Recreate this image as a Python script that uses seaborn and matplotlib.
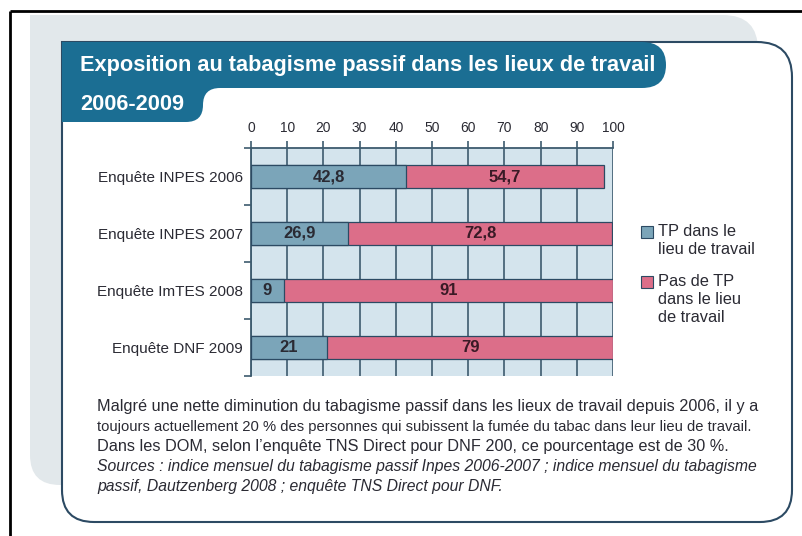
import matplotlib
matplotlib.use("Agg")
import matplotlib.pyplot as plt
from matplotlib.path import Path
from matplotlib.patches import PathPatch, Rectangle
import seaborn as sns

# data
categories = ["Enquête INPES 2006", "Enquête INPES 2007", "Enquête ImTES 2008", "Enquête DNF 2009"]
tp = [42.8, 26.9, 9, 21]
pas_tp = [54.7, 72.8, 91, 79]
tp_labels = ["42,8", "26,9", "9", "21"]
pas_labels = ["54,7", "72,8", "91", "79"]
x_ticks = [0, 10, 20, 30, 40, 50, 60, 70, 80, 90, 100]
legend_labels = ["TP dans le\nlieu de travail", "Pas de TP\ndans le lieu\nde travail"]
title_1 = "Exposition au tabagisme passif dans les lieux de travail"
title_2 = "2006-2009"
note_lines = [
    "Malgré une nette diminution du tabagisme passif dans les lieux de travail depuis 2006, il y a",
    "toujours actuellement 20 % des personnes qui subissent la fumée du tabac dans leur lieu de travail.",
    "Dans les DOM, selon l’enquête TNS Direct pour DNF 200, ce pourcentage est de 30 %.",
]
source_lines = [
    "Sources : indice mensuel du tabagisme passif Inpes 2006-2007 ; indice mensuel du tabagisme",
    "passif, Dautzenberg 2008 ; enquête TNS Direct pour DNF.",
]

blue = "#7ba5b9"
pink = "#dc6e89"
navy = "#2c4a63"
grid_col = "#3d5b6e"
banner = "#1b6e93"
dark = "#2a2a33"

sns.set_theme(style="white")
plt.rcParams["font.family"] = ["Liberation Sans Narrow", "Liberation Sans", "DejaVu Sans"]

W, H = 803, 536
fig = plt.figure(figsize=(W / 100, H / 100), dpi=100)
fig.patch.set_facecolor("white")

# background layer in pixel coords
bg = fig.add_axes([0, 0, 1, 1], zorder=0)
bg.set_xlim(0, W)
bg.set_ylim(H, 0)
bg.axis("off")


def shape(pts, codes, **kw):
    bg.add_patch(PathPatch(Path(pts, codes), **kw))


M, L, C, Z = Path.MOVETO, Path.LINETO, Path.CURVE3, Path.CLOSEPOLY

# grey card behind
shape([(30, 15), (723, 15), (758, 15), (758, 50), (758, 485), (60, 485), (30, 485), (30, 455), (30, 15)],
      [M, L, C, C, L, L, C, C, Z], facecolor="#e2e8eb", edgecolor="none")
# white box with navy border
shape([(62, 42), (757, 42), (792, 42), (792, 77), (792, 490), (792, 522), (760, 522),
       (94, 522), (62, 522), (62, 490), (62, 42)],
      [M, L, C, C, L, C, C, L, C, C, Z], facecolor="white", edgecolor=navy, linewidth=1.5)
# title banner
shape([(62, 42), (642, 42), (666, 42), (666, 65), (666, 88), (642, 88), (220, 88), (203, 88), (203, 105),
       (203, 122), (186, 122), (62, 122), (62, 42)],
      [M, L, C, C, C, C, L, C, C, C, C, L, Z], facecolor=banner, edgecolor="none")
# black frame
bg.plot([10, W], [11, 11], color="black", lw=2, solid_capstyle="butt")
bg.plot([10, 10], [11, H], color="black", lw=2, solid_capstyle="butt")

t1 = bg.text(80, 66, title_1, color="white", fontsize=16, fontweight="bold", va="center", ha="left")
t2 = bg.text(80, 104, title_2, color="white", fontsize=16, fontweight="bold", va="center", ha="left")

# legend
leg_texts = []
for i, (col, lab) in enumerate(zip([blue, pink], legend_labels)):
    y0 = 226 + i * 50
    bg.add_patch(Rectangle((641, y0), 12, 12, facecolor=col, edgecolor=navy, lw=0.8))
    leg_texts.append(bg.text(658, y0 - 2, lab, fontsize=11, color=dark, va="top", ha="left",
                             linespacing=1.25))

# note
notes = []
for i, line in enumerate(note_lines):
    notes.append(bg.text(97, 407 + i * 20, line, fontsize=10.5, color=dark, va="center", ha="left"))
for i, line in enumerate(source_lines):
    notes.append(bg.text(97, 467 + i * 20, line, fontsize=10.5, color=dark, va="center", ha="left",
                         style="italic"))

# chart
ax = fig.add_axes([251 / W, (H - 376) / H, 362 / W, 228 / H], zorder=1)
ax.set_facecolor("#d4e4ed")
totals = [a + b for a, b in zip(tp, pas_tp)]
sns.barplot(x=totals, y=categories, orient="h", color=pink, saturation=1, width=0.39,
            edgecolor=navy, linewidth=0.9, ax=ax, zorder=3)
sns.barplot(x=tp, y=categories, orient="h", color=blue, saturation=1, width=0.39,
            edgecolor=navy, linewidth=0.9, ax=ax, zorder=4)

for i in range(len(categories)):
    ax.text(tp[i] / 2, i, tp_labels[i], ha="center", va="center", fontsize=12,
            fontweight="bold", color=dark, zorder=5)
    ax.text(tp[i] + pas_tp[i] / 2, i, pas_labels[i], ha="center", va="center", fontsize=12,
            fontweight="bold", color="#3a1a26", zorder=5)

ax.set_xlim(0, 100)
ax.set_ylim(len(categories) - 0.5, -0.5)
ax.set_xticks(x_ticks)
ax.xaxis.tick_top()
ax.xaxis.set_label_position("top")
ax.grid(axis="x", color=grid_col, linewidth=1.2, zorder=1)
ax.grid(axis="y", visible=False)
ax.set_axisbelow(True)
ax.tick_params(axis="x", which="major", top=True, bottom=False, length=5, width=1.2, color=grid_col,
               pad=4, labelsize=10, labelcolor=dark)
ax.set_yticks(range(len(categories)))
ax.set_yticks([-0.5 + k for k in range(len(categories) + 1)], minor=True)
ax.tick_params(axis="y", which="major", left=False, length=0, pad=6, labelsize=11, labelcolor=dark)
ax.tick_params(axis="y", which="minor", left=True, length=5, width=1.2, color=grid_col)
ax.set_xlabel("")
ax.set_ylabel("")
for side in ["right", "bottom"]:
    ax.spines[side].set_visible(False)
for side in ["top", "left"]:
    ax.spines[side].set_color(grid_col)
    ax.spines[side].set_linewidth(1.3)

# the original uses a condensed face: size texts so they span the same width
fig.canvas.draw()
r = fig.canvas.get_renderer()


def fit_size(t, width):
    return t.get_fontsize() * width / t.get_window_extent(r).width


t1.set_fontsize(fit_size(t1, 575))
t2.set_fontsize(t1.get_fontsize())
s_note = fit_size(notes[0], 666)
s_line2 = fit_size(notes[1], 660)
s_src = fit_size(notes[3], 666)
notes[0].set_fontsize(s_note)
notes[1].set_fontsize(min(s_note, s_line2))
notes[2].set_fontsize(s_note)
notes[3].set_fontsize(s_src)
notes[4].set_fontsize(s_src)
s = fit_size(leg_texts[0], 97)
for t in leg_texts:
    t.set_fontsize(s)
lab0 = ax.get_yticklabels()[0]
ax.tick_params(axis="y", which="major", labelsize=fit_size(lab0, 145))
lab100 = ax.get_xticklabels()[-1]
ax.tick_params(axis="x", which="major", labelsize=fit_size(lab100, 23))

fig.savefig("out.png", dpi=100)
